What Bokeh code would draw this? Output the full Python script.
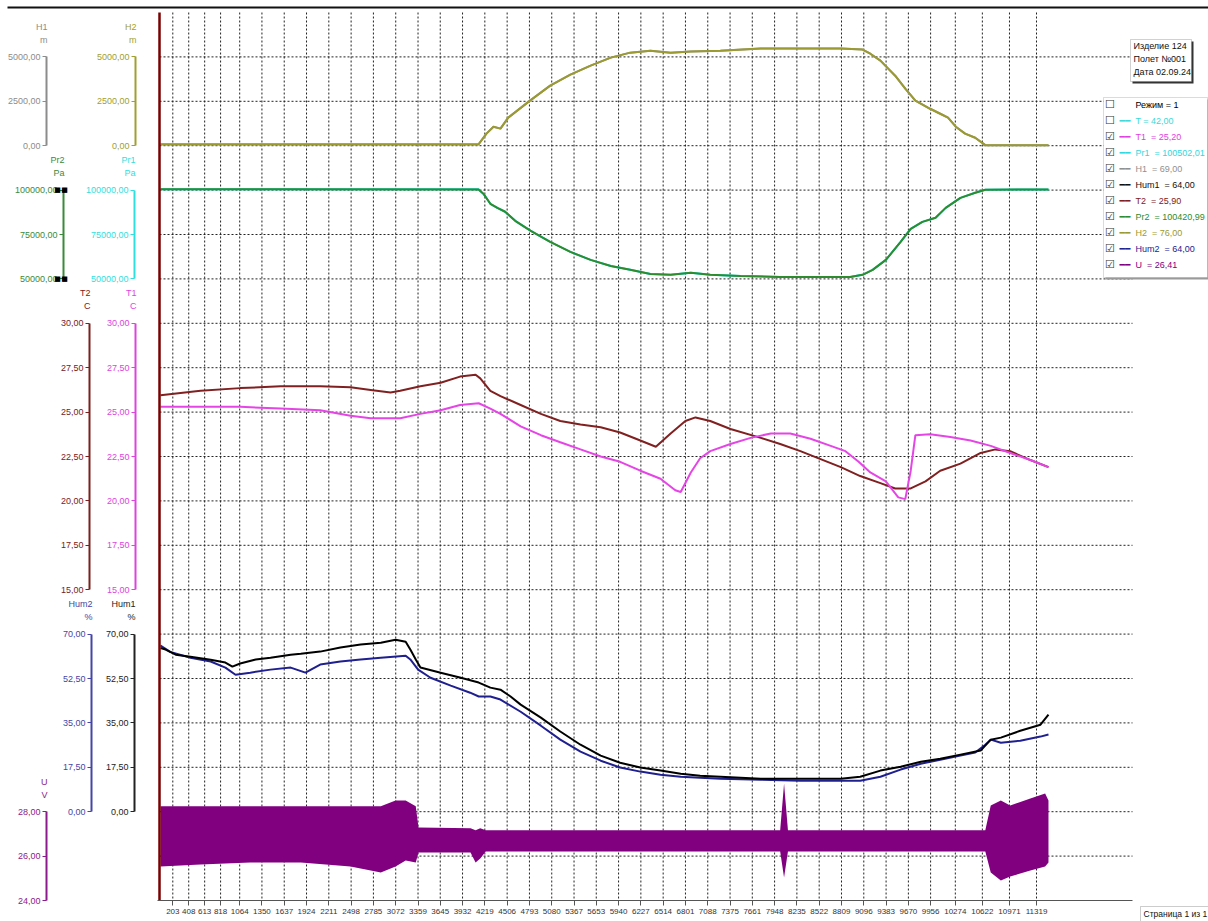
from bokeh.plotting import figure
from bokeh.models import (Range1d, LinearAxis, FixedTicker, CustomJSTickFormatter,
                          Label, BoxAnnotation)
from bokeh.embed import file_html
from bokeh.resources import INLINE

# ---------------- data ----------------
X_TICKS = [203, 408, 613, 818, 1064, 1350, 1637, 1924, 2211, 2498, 2785, 3072, 3359,
           3645, 3932, 4219, 4506, 4793, 5080, 5367, 5653, 5940, 6227, 6514, 6801,
           7088, 7375, 7661, 7948, 8235, 8522, 8809, 9096, 9383, 9670, 9956, 10274,
           10622, 10971, 11319]

H_X = [45, 4137, 4240, 4330, 4420, 4520, 4800, 5060, 5320, 5580, 5840, 6090, 6350,
       6610, 6870, 7250, 7770, 8280, 8800, 9080, 9180, 9310, 9500, 9630, 9760, 9950,
       10080, 10180, 10280, 10400, 10530, 10660, 11473]
H2 = [76, 76, 680, 1070, 960, 1580, 2540, 3380, 4000, 4510, 4960, 5240, 5350, 5240,
      5300, 5350, 5470, 5470, 5470, 5410, 5180, 4790, 3940, 3210, 2540, 2080, 1800,
      1580, 1070, 680, 450, 30, 30]
H1 = [69, 69, 680, 1070, 960, 1580, 2540, 3380, 4000, 4510, 4960, 5240, 5350, 5240,
      5300, 5350, 5470, 5470, 5470, 5410, 5180, 4790, 3940, 3210, 2540, 2080, 1800,
      1580, 1070, 680, 450, 30, 30]

PR_X = [45, 4137, 4200, 4290, 4380, 4480, 4610, 4810, 5060, 5320, 5580, 5840, 6090,
        6350, 6610, 6870, 7120, 7510, 8020, 8540, 8920, 9080, 9210, 9380, 9570, 9700,
        9850, 10020, 10150, 10340, 10530, 10660, 11473]
PR2 = [100420, 100400, 98000, 92300, 90000, 87800, 82700, 77000, 70800, 65200, 60700,
       57300, 55100, 52800, 52300, 53400, 52300, 51700, 51100, 51100, 51100, 52300,
       55100, 60700, 70800, 78200, 82100, 84400, 90000, 95600, 98500, 100200, 100400]
PR1 = [100502, 100450, 98000, 92300, 90000, 87800, 82700, 77000, 70800, 65200, 60700,
       57300, 55100, 52800, 52300, 53400, 52300, 51700, 51100, 51100, 51100, 52300,
       55100, 60700, 70800, 78200, 82100, 84400, 90000, 95600, 98500, 100200, 100400]

T2_X = [45, 560, 1070, 1590, 2100, 2490, 2750, 3005, 3130, 3390, 3650, 3900, 4100,
        4160, 4290, 4420, 4680, 4940, 5190, 5450, 5710, 5960, 6220, 6420, 6610, 6800,
        6930, 7120, 7380, 7770, 8020, 8280, 8540, 8800, 9050, 9310, 9500, 9700, 9890,
        10080, 10340, 10600, 10790, 10980, 11240, 11473]
T2 = [25.95, 26.2, 26.35, 26.45, 26.45, 26.4, 26.25, 26.1, 26.2, 26.45, 26.65, 27.0,
      27.1, 26.9, 26.2, 25.9, 25.4, 24.9, 24.5, 24.3, 24.15, 23.85, 23.4, 23.05, 23.8,
      24.5, 24.7, 24.5, 24.05, 23.55, 23.2, 22.8, 22.35, 21.9, 21.4, 21.0, 20.7, 20.7,
      21.1, 21.7, 22.1, 22.7, 22.9, 22.8, 22.3, 21.9]

T1_X = [45, 560, 1070, 1590, 2100, 2490, 2750, 3130, 3390, 3650, 3900, 4140, 4290,
        4420, 4680, 4940, 5190, 5450, 5710, 5960, 6220, 6480, 6670, 6740, 6870, 6990,
        7120, 7380, 7640, 7900, 8150, 8410, 8670, 8860, 9030, 9180, 9380, 9540, 9630,
        9700, 9760, 9950, 10210, 10470, 10730, 10980, 11240, 11473]
T1 = [25.3, 25.3, 25.3, 25.2, 25.1, 24.8, 24.65, 24.65, 24.9, 25.1, 25.4, 25.5, 25.2,
      24.9, 24.2, 23.7, 23.3, 22.9, 22.5, 22.2, 21.7, 21.25, 20.6, 20.5, 21.6, 22.4,
      22.8, 23.2, 23.55, 23.8, 23.8, 23.5, 23.1, 22.8, 22.2, 21.6, 21.1, 20.2, 20.1,
      21.7, 23.7, 23.75, 23.6, 23.4, 23.1, 22.7, 22.3, 21.9]

HUM1_X = [45, 110, 240, 430, 690, 880, 970, 1070, 1270, 1460, 1720, 1850, 2100, 2360,
          2620, 2880, 3070, 3200, 3260, 3330, 3390, 3650, 3910, 4140, 4290, 4420, 4550,
          4680, 4940, 5190, 5450, 5710, 5960, 6220, 6480, 6740, 6990, 7250, 7510, 7770,
          8540, 8800, 9050, 9310, 9570, 9830, 10080, 10340, 10600, 10730, 10860, 11110,
          11370, 11473]
HUM1 = [64.5, 63.9, 61.9, 61.1, 59.9, 58.8, 57.2, 58.4, 60.0, 60.7, 61.9, 62.3, 63.1,
        64.7, 65.9, 66.6, 67.8, 67.0, 63.9, 60.0, 56.8, 54.8, 52.8, 50.9, 48.9, 48.1,
        45.4, 42.2, 37.1, 31.6, 26.4, 22.1, 19.3, 17.4, 16.2, 15.0, 14.2, 13.8, 13.4,
        13.0, 13.0, 13.0, 13.8, 16.2, 17.7, 19.7, 20.9, 22.5, 24.1, 28.4, 29.2, 31.9,
        34.3, 38.3]

HUM2_X = [45, 170, 430, 690, 880, 1010, 1200, 1460, 1720, 1910, 2100, 2360, 2620, 2880,
          3200, 3260, 3360, 3520, 3780, 4030, 4140, 4290, 4420, 4680, 4940, 5190, 5450,
          5710, 5960, 6220, 6480, 6740, 6990, 7250, 7770, 8280, 8800, 9050, 9310, 9570,
          9830, 10080, 10340, 10530, 10660, 10730, 10860, 11110, 11370, 11473]
HUM2 = [65.5, 63.0, 60.7, 59.2, 56.8, 54.0, 54.8, 56.0, 56.8, 54.8, 58.0, 59.2, 60.0,
        60.7, 61.5, 60.0, 56.0, 52.8, 49.7, 46.9, 45.4, 45.4, 44.2, 39.4, 33.9, 28.4,
        23.7, 20.1, 17.4, 15.8, 14.6, 13.8, 13.4, 13.0, 12.6, 12.2, 12.2, 12.2, 13.8,
        16.6, 18.9, 20.5, 22.1, 23.3, 26.4, 28.4, 27.2, 28.0, 29.6, 30.4]

U_X = [45, 560, 1200, 1850, 2490, 2880, 3070, 3200, 3330, 3365, 4035, 4100, 4160, 4230,
       8020, 8070, 8120, 10660, 10730, 10860, 10980, 11240, 11430, 11473]
U_HI = [28.24, 28.24, 28.24, 28.24, 28.24, 28.24, 28.51, 28.51, 28.24, 27.29, 27.25,
        27.16, 27.25, 27.16, 27.16, 29.27, 27.16, 27.16, 28.28, 28.51, 28.28, 28.60,
        28.82, 28.51]
U_LO = [25.53, 25.62, 25.71, 25.71, 25.53, 25.26, 25.53, 25.80, 25.71, 26.16, 26.16,
        25.71, 25.89, 26.21, 26.21, 25.04, 26.21, 26.21, 25.26, 24.90, 25.08, 25.35,
        25.53, 25.71]

H_TICKS = [0, 2500, 5000]
PR_TICKS = [50000, 75000, 100000]
T_TICKS = [15, 17.5, 20, 22.5, 25, 27.5, 30]
HUM_TICKS = [0, 17.5, 35, 52.5, 70]
U_TICKS = [24, 26, 28]

NB = "\u00a0"
LEGEND_ROWS = [
    ("Режим = 1", "#000000", False, False),
    ("T = 42,00", "#40d8d8", False, True),
    ("T1" + NB * 2 + "= 25,20", "#e040e0", True, True),
    ("Pr1" + NB * 2 + "= 100502,01", "#30d8e0", True, True),
    ("H1" + NB * 2 + "= 69,00", "#909090", True, True),
    ("Hum1" + NB * 2 + "= 64,00", "#111111", True, True),
    ("T2" + NB * 2 + "= 25,90", "#802020", True, True),
    ("Pr2" + NB * 2 + "= 100420,99", "#2e8b2e", True, True),
    ("H2" + NB * 2 + "= 76,00", "#9a9a30", True, True),
    ("Hum2" + NB * 2 + "= 64,00", "#222290", True, True),
    ("U" + NB * 2 + "= 26,41", "#800080", True, True),
]
INFO_LINES = ["Изделие 124", "Полет №001", "Дата 02.09.24"]
PAGE_TEXT = "Страница 1 из 1"

# ---------------- layout (canvas pixels) ----------------
W, HGT = 1208, 921
FL, FR, FT, FB = 159, 1132, 12, 900       # data area
CELL = (FB - FT) / 20.0                   # grid cell height
PX0, REC0, REC_PER_PX = 172.3, 203, 12.87 # x scale anchor
FONT = "Liberation Sans"


def rec_at(px):
    return REC0 + (px - PX0) * REC_PER_PX


def y_range_for(value, row, per_cell):
    y0 = FB - row * CELL
    return Range1d(value - (HGT - y0) / CELL * per_cell, value + y0 / CELL * per_cell)


p = figure(width=W, height=HGT, output_backend="svg", toolbar_location=None,
           x_range=Range1d(rec_at(0), rec_at(W)), y_range=Range1d(HGT, 0),
           x_axis_location=None, y_axis_location=None,
           min_border=0, min_border_left=0, min_border_right=0,
           min_border_top=0, min_border_bottom=0)
p.title.visible = False
p.outline_line_color = None
p.background_fill_color = "white"
p.border_fill_color = "white"
p.xgrid.visible = False
p.ygrid.visible = False

p.extra_x_ranges = {"px": Range1d(0, W)}
p.extra_y_ranges = {
    "H": y_range_for(0, 17, 2500),
    "Pr": y_range_for(50000, 14, 25000),
    "T": y_range_for(15, 7, 2.5),
    "Hum": y_range_for(0, 2, 17.5),
    "U": y_range_for(24, 0, 2),
}

# grid lines (dotted), limited to the data area
n = len(X_TICKS)
p.segment(x0=X_TICKS, y0=[FT] * n, x1=X_TICKS, y1=[FB] * n,
          line_color="#222222", line_dash="2 2", line_width=1)
rows = [FB - k * CELL for k in range(1, 20)]
p.segment(x0=[FL] * len(rows), y0=rows, x1=[FR] * len(rows), y1=rows,
          x_range_name="px", line_color="#222222", line_dash="2 2", line_width=1)

# series
p.line(H_X, H1, y_range_name="H", line_color="#999999", line_width=2)
p.line(H_X, H2, y_range_name="H", line_color="#9a9a30", line_width=2)
p.line(PR_X, PR1, y_range_name="Pr", line_color="#00e0e0", line_width=2)
p.line(PR_X, PR2, y_range_name="Pr", line_color="#2e8b2e", line_width=2)
p.line(T2_X, T2, y_range_name="T", line_color="#802020", line_width=2)
p.line(T1_X, T1, y_range_name="T", line_color="#e645e6", line_width=2)
p.line(HUM2_X, HUM2, y_range_name="Hum", line_color="#1f1f8f", line_width=2)
p.line(HUM1_X, HUM1, y_range_name="Hum", line_color="#000000", line_width=2)
p.varea(x=U_X, y1=U_LO, y2=U_HI, y_range_name="U", fill_color="#800080")

# left cursor line
p.segment(x0=[FL], y0=[FT], x1=[FL], y1=[FB], x_range_name="px",
          line_color="#7a0000", line_width=2.5)

# x axis (record numbers)
xa = LinearAxis(y_range_name="default", fixed_location=FB,
                bounds=(rec_at(FL - 2), rec_at(FR)),
                ticker=FixedTicker(ticks=X_TICKS),
                formatter=CustomJSTickFormatter(code="return tick.toFixed(0);"),
                axis_label=None, axis_line_color="#555555", axis_line_width=1,
                major_tick_line_color="#555555", major_tick_out=5, major_tick_in=0,
                minor_tick_line_color=None, major_label_text_font_size="8px",
                major_label_text_font=FONT, major_label_text_color="#333333",
                major_label_standoff=3)
p.add_layout(xa, "below")

# left axes
fmt = CustomJSTickFormatter(code="return tick.toFixed(2).replace('.', ',');")
AXES = [
    ("H1", "m", "H", H_TICKS, 46, "#8c8c8c"),
    ("H2", "m", "H", H_TICKS, 135, "#a0a030"),
    ("Pr2", "Pa", "Pr", PR_TICKS, 63, "#3a8a3a"),
    ("Pr1", "Pa", "Pr", PR_TICKS, 134, "#30dede"),
    ("T2", "C", "T", T_TICKS, 89, "#7a2020"),
    ("T1", "C", "T", T_TICKS, 135, "#dd44dd"),
    ("Hum2", "%", "Hum", HUM_TICKS, 91, "#4545a5"),
    ("Hum1", "%", "Hum", HUM_TICKS, 134, "#222222"),
    ("U", "V", "U", U_TICKS, 46, "#8b1a8b"),
]
AX_TOP_ROW = {"H": 19, "Pr": 16, "T": 13, "Hum": 6, "U": 2}
for name, unit, rng, ticks, ax_x, color in AXES:
    ax = LinearAxis(y_range_name=rng, x_range_name="px", fixed_location=ax_x,
                    bounds=(min(ticks), max(ticks)), ticker=FixedTicker(ticks=ticks),
                    formatter=fmt, axis_label=None,
                    axis_line_color=color, axis_line_width=2,
                    major_tick_line_color=color, major_tick_out=4, major_tick_in=0,
                    minor_tick_line_color=None,
                    major_label_text_color=color, major_label_text_font_size="9px",
                    major_label_text_font=FONT, major_label_standoff=2)
    p.add_layout(ax, "left")
    top = FB - AX_TOP_ROW[rng] * CELL
    for txt, dy in ((name, -30), (unit, -17)):
        p.add_layout(Label(x=ax_x + 1, y=top + dy, x_range_name="px",
                           text=txt, text_align="right", text_baseline="middle",
                           text_font=FONT, text_font_size="9px", text_color=color))

# selection squares on Pr2 axis
for sx in (57, 64):
    for row in (16, 14):
        p.add_layout(Label(x=sx, y=FB - row * CELL, x_range_name="px", text="■",
                           text_align="center", text_baseline="middle",
                           text_font="DejaVu Sans", text_font_size="7px",
                           text_color="#000000"))

# top border line
p.add_layout(BoxAnnotation(left=7, right=W, top=6, bottom=8, x_range_name="px",
                           fill_color="#111111", fill_alpha=1, line_color=None))

# info box
p.add_layout(BoxAnnotation(left=1132, right=1193, top=41, bottom=83, x_range_name="px",
                           fill_color="#333333", fill_alpha=1, line_color=None))
p.add_layout(BoxAnnotation(left=1130, right=1191, top=39, bottom=81, x_range_name="px",
                           fill_color="white", fill_alpha=1,
                           line_color="#666666", line_width=1))
for i, t in enumerate(INFO_LINES):
    p.add_layout(Label(x=1133, y=45 + 13.3 * i, x_range_name="px",
                       text=t, text_align="left", text_baseline="middle",
                       text_font=FONT, text_font_size="9px", text_color="#111111"))

# legend box
p.add_layout(BoxAnnotation(left=1105, right=W + 2, top=99, bottom=279, x_range_name="px",
                           fill_color="#9a9a9a", fill_alpha=1, line_color=None))
p.add_layout(BoxAnnotation(left=1103, right=W - 1, top=97, bottom=277, x_range_name="px",
                           fill_color="white", fill_alpha=1,
                           line_color="#888888", line_width=1))
for i, (txt, col, checked, sample) in enumerate(LEGEND_ROWS):
    yy = 104 + 16 * i
    p.add_layout(Label(x=1109.5, y=yy, x_range_name="px",
                       text="☑" if checked else "☐", text_align="center",
                       text_baseline="middle", text_font="DejaVu Sans",
                       text_font_size="11px", text_color="#333333"))
    if sample:
        p.add_layout(Label(x=1119, y=yy, x_range_name="px",
                           text="━━", text_align="left", text_baseline="middle",
                           text_font="DejaVu Sans", text_font_size="9px", text_color=col))
    p.add_layout(Label(x=1135, y=yy, x_range_name="px", text=txt,
                       text_align="left", text_baseline="middle", text_font=FONT,
                       text_font_size="9px", text_color=col))

# page box
p.add_layout(BoxAnnotation(left=1140, right=W + 2, top=906, bottom=HGT + 2,
                           x_range_name="px", fill_color="white", fill_alpha=1,
                           line_color="#555555", line_width=1))
p.add_layout(Label(x=1143, y=913.5, x_range_name="px", text=PAGE_TEXT,
                   text_align="left", text_baseline="middle", text_font=FONT,
                   text_font_size="8.5px", text_color="#111111"))

open("out.html", "w").write(file_html(p, INLINE))
